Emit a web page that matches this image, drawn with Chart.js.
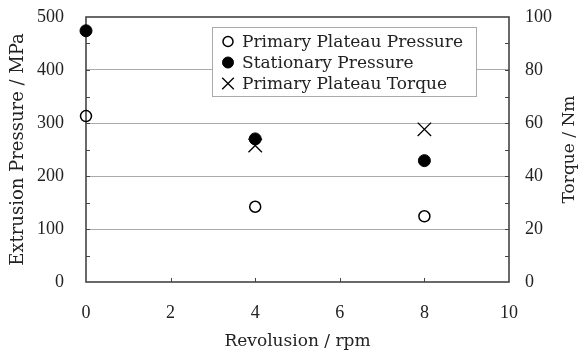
<!DOCTYPE html>
<html>
<head>
<meta charset="utf-8">
<script src="https://cdn.jsdelivr.net/npm/chart.js@4/dist/chart.umd.min.js"></script>
<style>
html,body{margin:0;padding:0;background:#fff;}
#wrap{width:579px;height:355px;}
</style>
</head>
<body>
<div id="wrap"><canvas id="c" width="579" height="355"></canvas></div>
<script>
// ---- data ----
const rpm = [0, 4, 8];
const primaryPressure = [313, 142, 124];
const stationaryPressure = [474, 270, 229];
const torqueRpm = [4, 8];
const torque = [51.5, 57.6];
const xTicks = [0, 2, 4, 6, 8, 10];
const pressureTicks = [0, 100, 200, 300, 400, 500];
const torqueTicks = [0, 20, 40, 60, 80, 100];
const labels = ['Primary Plateau Pressure', 'Stationary Pressure', 'Primary Plateau Torque'];
const xTitle = 'Revolusion / rpm';
const yTitle = 'Extrusion Pressure / MPa';
const y2Title = 'Torque / Nm';

const TEXT_FONT = '"DejaVu Serif", serif';
const TICK_FONT = '"Liberation Serif", serif';
const FRAME = '#444';
const GRID = '#aaa';
const NONE = 'rgba(0,0,0,0)';

function pts(xs, ys){ return xs.map((x,i)=>({x:x, y:ys[i]})); }

const decor = {
  id: 'decor',
  beforeDatasetsDraw(chart){
    const {ctx, chartArea:a, scales} = chart;
    ctx.save();
    ctx.strokeStyle = FRAME;
    ctx.lineWidth = 1;
    const tl = 4;
    for (let v = 50; v < 500; v += 50){
      const y = Math.round(scales.y.getPixelForValue(v)) + 0.5;
      ctx.beginPath();
      ctx.moveTo(a.left, y); ctx.lineTo(a.left + tl, y);
      ctx.moveTo(a.right, y); ctx.lineTo(a.right - tl, y);
      ctx.stroke();
    }
    xTicks.forEach(v=>{
      if (v === 0 || v === 10) return;
      const x = Math.round(scales.x.getPixelForValue(v)) + 0.5;
      ctx.beginPath();
      ctx.moveTo(x, a.bottom); ctx.lineTo(x, a.bottom - tl);
      ctx.stroke();
    });
    ctx.lineWidth = 1.6;
    ctx.strokeRect(a.left, a.top, a.right - a.left, a.bottom - a.top);
    ctx.restore();
  },
  afterDatasetsDraw(chart){
    const {ctx, chartArea:a} = chart;
    ctx.save();
    ctx.font = '17px ' + TEXT_FONT;
    ctx.fillStyle = '#222';
    ctx.textAlign = 'center';
    ctx.textBaseline = 'middle';
    ctx.translate(570, (a.top + a.bottom) / 2);
    ctx.rotate(-Math.PI / 2);
    ctx.fillText(y2Title, 0, 0);
    ctx.restore();

    ctx.save();
    const bx = 212, by = 27, bw = 264, bh = 69;
    ctx.fillStyle = '#fff';
    ctx.fillRect(bx, by, bw, bh);
    ctx.strokeStyle = '#aaa';
    ctx.lineWidth = 1;
    ctx.strokeRect(bx + 0.5, by + 0.5, bw, bh);
    const rows = [41.5, 62.5, 83.5];
    chart.data.datasets.forEach((ds, i) => {
      const mx = 228, my = rows[i];
      ctx.save();
      ctx.strokeStyle = ds.borderColor;
      ctx.fillStyle = ds.backgroundColor;
      ctx.lineWidth = ds.borderWidth;
      ctx.beginPath();
      if (ds.pointStyle === 'crossRot'){
        const h = 5.8;
        ctx.moveTo(mx - h, my - h); ctx.lineTo(mx + h, my + h);
        ctx.moveTo(mx - h, my + h); ctx.lineTo(mx + h, my - h);
        ctx.stroke();
      } else {
        const r = i === 0 ? 5 : 5.5;
        ctx.arc(mx, my, r, 0, Math.PI * 2);
        ctx.fill();
        ctx.stroke();
      }
      ctx.restore();
      ctx.font = '17px ' + TEXT_FONT;
      ctx.fillStyle = '#222';
      ctx.textAlign = 'left';
      ctx.textBaseline = 'middle';
      ctx.fillText(ds.label, 242, my + 1);
    });
    ctx.restore();
  }
};

new Chart(document.getElementById('c'), {
  type: 'scatter',
  data: {
    datasets: [
      { label: labels[0], data: pts(rpm, primaryPressure), yAxisID: 'y',
        pointStyle: 'circle', pointRadius: 5.5, pointHoverRadius: 5.5,
        backgroundColor: NONE, borderColor: '#000', borderWidth: 1.5, clip: false },
      { label: labels[1], data: pts(rpm, stationaryPressure), yAxisID: 'y',
        pointStyle: 'circle', pointRadius: 6, pointHoverRadius: 6,
        backgroundColor: '#000', borderColor: '#000', borderWidth: 1, clip: false },
      { label: labels[2], data: pts(torqueRpm, torque), yAxisID: 'y2',
        pointStyle: 'crossRot', pointRadius: 9.5, pointHoverRadius: 9.5,
        backgroundColor: '#000', borderColor: '#000', borderWidth: 1.3, clip: false }
    ]
  },
  options: {
    responsive: false,
    animation: false,
    events: [],
    layout: { autoPadding: false, padding: { top: 17, left: 0, right: 0, bottom: 0 } },
    plugins: { legend: { display: false }, tooltip: { enabled: false } },
    scales: {
      x: {
        type: 'linear', min: 0, max: 10,
        afterFit(s){ s.height = 73; },
        afterBuildTicks(s){ s.ticks = xTicks.map(v=>({value:v})); },
        grid: { display: false, drawTicks: false },
        border: { display: false },
        ticks: { padding: 20, color: '#222', font: { family: TICK_FONT, size: 18 } },
        title: { display: true, text: xTitle, color: '#222',
                 font: { family: TEXT_FONT, size: 17 }, padding: { top: 0, bottom: 3 } }
      },
      y: {
        type: 'linear', position: 'left', min: 0, max: 500,
        afterFit(s){ s.width = 86; },
        afterBuildTicks(s){ s.ticks = pressureTicks.map(v=>({value:v})); },
        grid: { color: (c)=> (c.tick && c.tick.value > 0 && c.tick.value < 500) ? GRID : NONE,
                drawTicks: true, tickLength: 20, tickColor: NONE, lineWidth: 1 },
        border: { display: false },
        ticks: { padding: 2, color: '#222', font: { family: TICK_FONT, size: 18 } },
        title: { display: true, text: yTitle, color: '#222',
                 font: { family: TEXT_FONT, size: 18 }, padding: { top: 8, bottom: 0 } }
      },
      y2: {
        type: 'linear', position: 'right', min: 0, max: 100,
        afterFit(s){ s.width = 70; },
        afterBuildTicks(s){ s.ticks = torqueTicks.map(v=>({value:v})); },
        grid: { display: true, drawOnChartArea: false, color: NONE, drawTicks: true, tickLength: 14, tickColor: NONE },
        border: { display: false },
        ticks: { padding: 2, color: '#222', font: { family: TICK_FONT, size: 18 } }
      }
    }
  },
  plugins: [decor]
});
</script>
</body>
</html>
